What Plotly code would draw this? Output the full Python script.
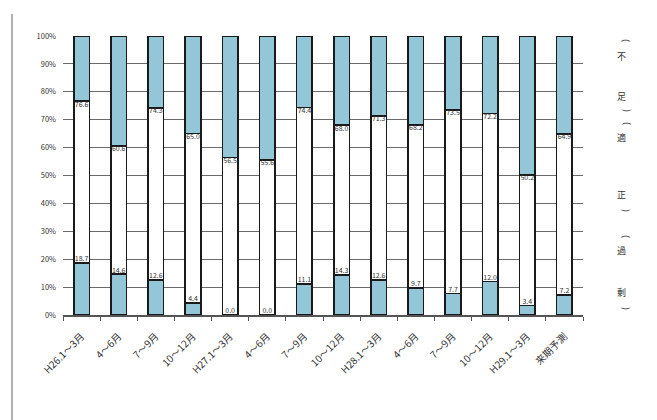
import plotly.graph_objects as go

categories = ["H26.1～3月", "4～6月", "7～9月", "10～12月", "H27.1～3月", "4～6月",
              "7～9月", "10～12月", "H28.1～3月", "4～6月", "7～9月", "10～12月",
              "H29.1～3月", "来期予測"]
# bottom segment (過剰) share, %
bottom_vals = [18.7, 14.6, 12.6, 4.4, 0.0, 0.0, 11.1, 14.3, 12.6, 9.7, 7.7, 12.0, 3.4, 7.2]
# cumulative share up to the top of the middle segment (過剰 + 適正), %
cum_vals = [76.6, 60.6, 74.3, 65.0, 56.5, 55.6, 74.4, 68.0, 71.3, 68.2, 73.5, 72.2, 50.2, 64.9]

x = list(range(len(categories)))
middle_vals = [round(c - b, 1) for c, b in zip(cum_vals, bottom_vals)]
top_vals = [round(100 - c, 1) for c in cum_vals]

BLUE = "#93c6d7"
FONT = "Noto Sans CJK JP"
LINE = dict(color="#1a1a1a", width=1.6)
W = 0.42

fig = go.Figure()
fig.add_trace(go.Bar(x=x, y=bottom_vals, width=W, marker=dict(color=BLUE, line=LINE), name="過剰"))
fig.add_trace(go.Bar(x=x, y=middle_vals, width=W, marker=dict(color="white", line=LINE), name="適正"))
fig.add_trace(go.Bar(x=x, y=top_vals, width=W, marker=dict(color=BLUE, line=LINE), name="不足"))

fig.add_trace(go.Scatter(x=x, y=bottom_vals, mode="text", text=[f"{v:.1f}" for v in bottom_vals],
                         textposition="top center", textfont=dict(size=7, color="#333", family=FONT),
                         showlegend=False, cliponaxis=False))
fig.add_trace(go.Scatter(x=x, y=cum_vals, mode="text", text=[f"{v:.1f}" for v in cum_vals],
                         textposition="bottom center", textfont=dict(size=7, color="#333", family=FONT),
                         showlegend=False, cliponaxis=False))

# vertical legend-like text at right: (character, y pixel, is_bracket)
vt = [("(", 40, True), ("不", 56, False), ("足", 96, False), (")", 110, True),
      ("(", 123, True), ("適", 137, False), ("正", 195, False), (")", 210, True),
      ("(", 236, True), ("過", 250, False), ("剰", 292, False), (")", 308, True)]
for ch, ypx, br in vt:
    fig.add_annotation(x=(621 - 63) / 520, y=(315 - ypx) / 279, xref="paper", yref="paper",
                       text=ch, showarrow=False, textangle=90 if br else 0,
                       xanchor="center", yanchor="middle", xshift=6 if br else 0,
                       font=dict(size=9, color="#333", family=FONT))

# left frame line
fig.add_shape(type="line", xref="paper", yref="paper",
              x0=(12 - 63) / 520, x1=(12 - 63) / 520, y0=(315 - 420) / 279, y1=(315 - 14) / 279,
              line=dict(color="#999", width=1.5))

fig.update_layout(
    barmode="stack", bargap=0.55,
    width=657, height=420,
    margin=dict(l=63, r=74, t=36, b=105),
    paper_bgcolor="white", plot_bgcolor="white",
    showlegend=False,
    font=dict(family=FONT, color="#333"),
)
fig.update_xaxes(
    range=[-0.5, len(categories) - 0.5],
    tickmode="array", tickvals=x, ticktext=categories, tickangle=-45,
    tickfont=dict(size=10, color="#333", family=FONT),
    ticks="", showgrid=False, zeroline=False, ticklabelstandoff=10,
    showline=True, linecolor="#555", linewidth=1.5,
    minor=dict(ticks="outside", tick0=-0.5, dtick=1, ticklen=4, tickcolor="#555", tickwidth=1.2, showgrid=False),
)
fig.update_yaxes(
    range=[0, 100], tickvals=[0, 10, 20, 30, 40, 50, 60, 70, 80, 90, 100],
    ticktext=[f"{v}%" for v in range(0, 101, 10)],
    tickfont=dict(size=7.5, color="#333", family=FONT),
    showgrid=True, gridcolor="#6a6a6a", gridwidth=1.3,
    zeroline=False, showline=False, ticks="", ticklabelstandoff=6,
)

fig.write_html("out.html")
